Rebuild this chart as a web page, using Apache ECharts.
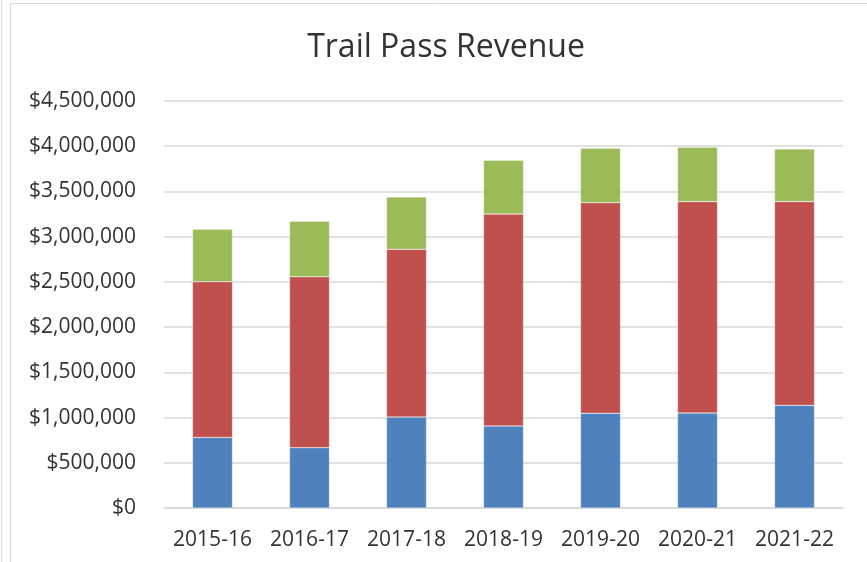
<!DOCTYPE html>
<html><head><meta charset="utf-8">
<script src="https://cdn.jsdelivr.net/npm/echarts@6/dist/echarts.min.js"></script>
<style>html,body{margin:0;padding:0;background:#fff}#c{width:867px;height:562px}</style>
</head><body><div id="c"></div>
<script>
const categories = ['2015-16','2016-17','2017-18','2018-19','2019-20','2020-21','2021-22'];
const seriesA = [780000, 667000, 1006000, 907000, 1047000, 1050000, 1135000];
const seriesB = [1722000, 1890000, 1854000, 2343000, 2329000, 2337000, 2252000];
const seriesC = [579000, 613000, 579000, 595000, 601000, 601000, 583000];
const yTicks = [0, 500000, 1000000, 1500000, 2000000, 2500000, 3000000, 3500000, 4000000, 4500000];

const font = 'Open Sans';
const chart = echarts.init(document.getElementById('c'), null, {renderer:'canvas'});
function fmt(v){ return '$' + v.toLocaleString('en-US'); }
const mk = (name, data, color) => ({
  name, type:'bar', stack:'total', data, barWidth: 40,
  itemStyle:{color, borderColor:'rgba(255,255,255,0.6)', borderWidth:0.5},
  emphasis:{disabled:true}
});
chart.setOption({
  animation:false,
  title:{text:'Trail Pass Revenue', left:441, top:27, textAlign:'center',
    textStyle:{fontFamily:font, fontSize:32, fontWeight:'normal', color:'#333'}},
  graphic:[
    {type:'rect', shape:{x:10.5, y:3.5, width:900, height:600}, style:{fill:'none', stroke:'#d9d9d9', lineWidth:1}, silent:true},
    {type:'line', shape:{x1:1.5, y1:0, x2:1.5, y2:562}, style:{stroke:'#d9d9d9', lineWidth:1}, silent:true}
  ],
  grid:{left:164, right:24, top:101, bottom:54, containLabel:false},
  xAxis:{type:'category', data:categories,
    axisLine:{lineStyle:{color:'#d9d9d9', width:1.5}}, axisTick:{show:false},
    axisLabel:{fontFamily:font, fontSize:21, color:'#333', margin:22, interval:0, hideOverlap:false}},
  yAxis:{type:'value', min:yTicks[0], max:yTicks[yTicks.length-1], interval:500000,
    axisLine:{show:false}, axisTick:{show:false},
    splitLine:{lineStyle:{color:'#d9d9d9', width:1.5}},
    axisLabel:{fontFamily:font, fontSize:21, color:'#333', margin:28, formatter:fmt}},
  series:[mk('A', seriesA, '#4F81BD'), mk('B', seriesB, '#C0504D'), mk('C', seriesC, '#9BBB59')]
});
</script></body></html>
